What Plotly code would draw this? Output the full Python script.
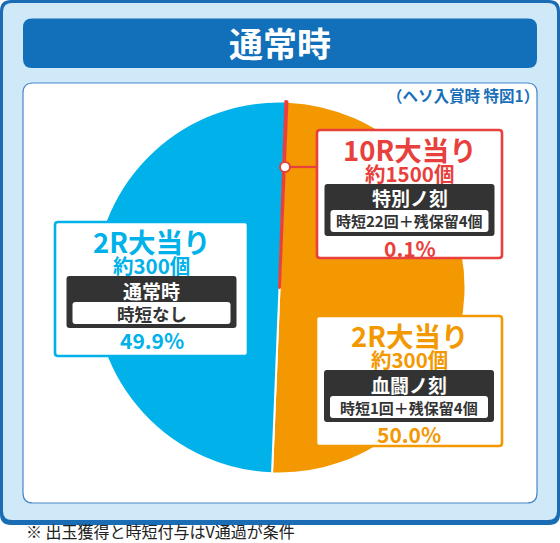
import plotly.graph_objects as go

# ---------------- data ----------------
slice_names = ["2R大当り（血闘ノ刻）", "2R大当り（通常時）", "10R大当り（特別ノ刻）"]
shares = [50.0, 49.9, 0.1]
round_labels = ["2R大当り", "2R大当り", "10R大当り"]
payouts = ["約300個", "約300個", "約1500個"]
modes = ["血闘ノ刻", "通常時", "特別ノ刻"]
jitan = ["時短1回＋残保留4個", "時短なし", "時短22回＋残保留4個"]
title_text = "通常時"
subtitle_text = "（ヘソ入賞時 特図1）"
footnote_text = "※ 出玉獲得と時短付与はV通過が条件"

# ---------------- style ----------------
slice_colors = ["#f39800", "#00b1ea", "#e8403c"]
W, H = 560, 543
FONT = "Noto Sans CJK JP"


def px(x):
    return x / W


def py(y):
    return 1 - y / H


def rrect(x0, y0, x1, y1, r):
    pts = [
        ("M", (x0 + r, y0)), ("L", (x1 - r, y0)), ("Q", (x1, y0), (x1, y0 + r)),
        ("L", (x1, y1 - r)), ("Q", (x1, y1), (x1 - r, y1)),
        ("L", (x0 + r, y1)), ("Q", (x0, y1), (x0, y1 - r)),
        ("L", (x0, y0 + r)), ("Q", (x0, y0), (x0 + r, y0)),
    ]
    s = ""
    for item in pts:
        cmd = item[0]
        coords = " ".join(f"{px(a):.5f},{py(b):.5f}" for a, b in item[1:])
        s += f"{cmd}{coords} "
    return s + "Z"


shapes = []
annotations = []


def add_rrect(x0, y0, x1, y1, r, fill, line_color=None, line_width=0, layer="below"):
    shapes.append(dict(
        type="path", xref="paper", yref="paper", path=rrect(x0, y0, x1, y1, r),
        fillcolor=fill, line=dict(color=line_color or fill, width=line_width),
        layer=layer,
    ))


def add_text(x, y, text, size, color, bold=True, xanchor="center"):
    annotations.append(dict(
        x=px(x), y=py(y), xref="paper", yref="paper", showarrow=False,
        text=f"<b>{text}</b>" if bold else text, xanchor=xanchor, yanchor="middle",
        font=dict(family=FONT, size=size, color=color),
    ))


# background panels
add_rrect(0, 0, 560, 525, 11, "#1a6db5")
add_rrect(3, 3, 557, 520, 9, "#cfe9f8")
add_rrect(23, 18.5, 537, 68, 9, "#1170b9")
add_rrect(23, 83, 537, 503, 10, "#ffffff", "#4a86c8", 1.2)
add_text(280, 42, title_text, 34, "#ffffff")
add_text(541, 95, subtitle_text, 15.5, "#1a6fb8", xanchor="right")
add_text(24, 531, footnote_text, 16, "#222222", bold=False, xanchor="left")

# pie
fig = go.Figure(go.Pie(
    values=shares, labels=slice_names, sort=False, direction="clockwise",
    rotation=2.3, textinfo="none", hoverinfo="skip", showlegend=False,
    marker=dict(colors=slice_colors,
                line=dict(color=["#ffffff", "#ffffff", slice_colors[2]], width=[2, 2, 3])),
    domain=dict(x=[px(93.5), px(465.5)], y=[py(473.5), py(101.5)]),
))

# label boxes (left, top, right) per slice
box_geom = [(316, 316, 502), (55, 222, 248), (317, 130, 502)]
box_heights = [130, 134, 128]
for i in range(len(shares)):
    x0, top, x1 = box_geom[i]
    cx = (x0 + x1) / 2
    col = slice_colors[i]
    add_rrect(x0, top, x1, top + box_heights[i], 3, "#ffffff", col, 2.6, layer="above")
    add_rrect(cx - 85, top + 54, cx + 85, top + 106, 3, "#333333", layer="above")
    add_rrect(cx - 79, top + 80, cx + 79, top + 102, 3, "#ffffff", layer="above")
    add_text(cx, top + 19, round_labels[i], 27.5, col)
    add_text(cx, top + 43, payouts[i], 20.5, col)
    add_text(cx, top + 68, modes[i], 19, "#ffffff")
    add_text(cx, top + 91, jitan[i], 17.5 if len(jitan[i]) <= 5 else 15, "#333333")
    add_text(cx, top + 118, f"{shares[i]:.1f}%", 21, col)

# leader line + dot for the small slice
shapes.append(dict(type="line", xref="paper", yref="paper", x0=px(285), y0=py(167),
                   x1=px(317), y1=py(167), line=dict(color=slice_colors[2], width=2.2),
                   layer="above"))
shapes.append(dict(type="circle", xref="paper", yref="paper", x0=px(280), y0=py(172),
                   x1=px(290), y1=py(162), fillcolor="#ffffff",
                   line=dict(color=slice_colors[2], width=2), layer="above"))

fig.update_layout(
    width=W, height=H, margin=dict(l=0, r=0, t=0, b=0),
    paper_bgcolor="#ffffff", plot_bgcolor="#ffffff",
    shapes=shapes, annotations=annotations, showlegend=False,
)
fig.write_html("out.html")
